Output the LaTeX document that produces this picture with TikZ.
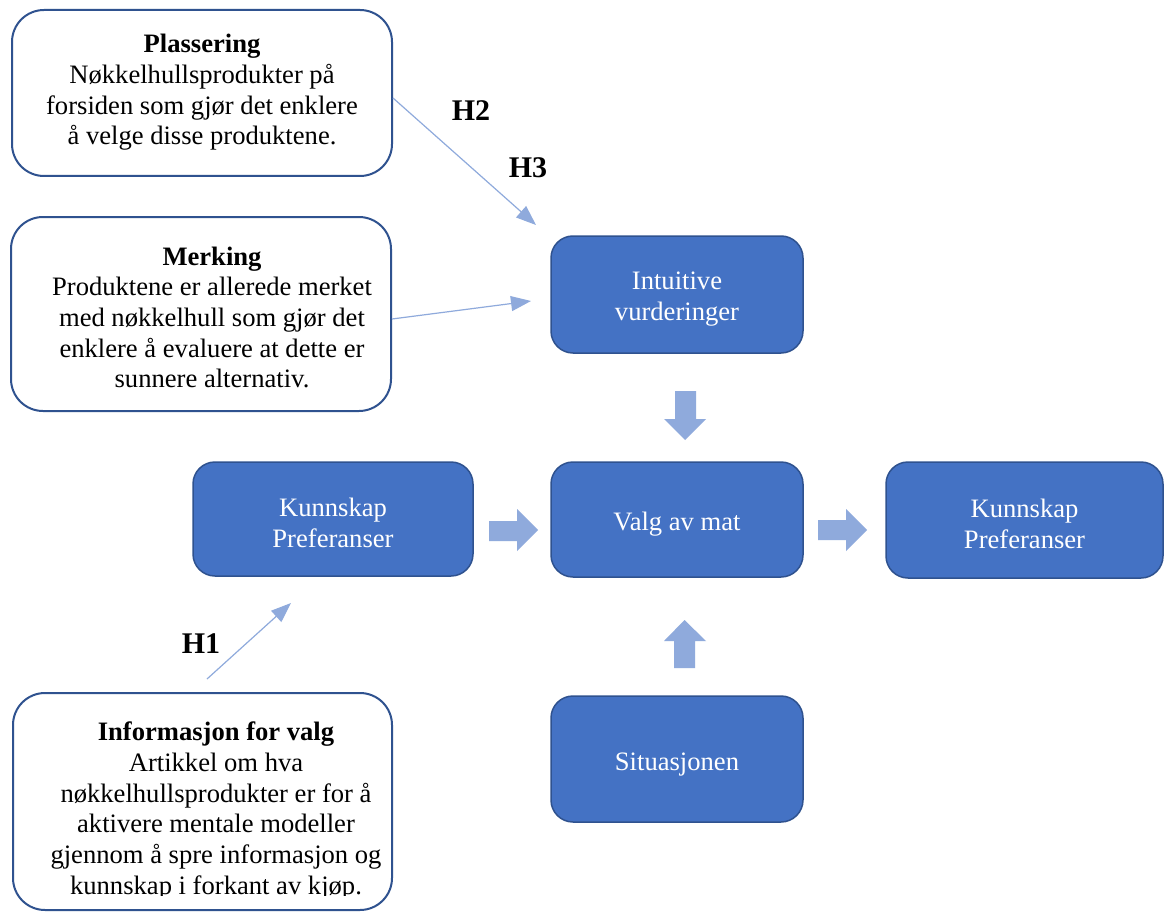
\documentclass[tikz,border=0pt]{standalone}
\usepackage{fontspec}
\setmainfont{Liberation Serif}
\usetikzlibrary{arrows.meta,calc}
\definecolor{boxblue}{HTML}{4472C4}
\definecolor{edgeblue}{HTML}{2F528F}
\definecolor{lightblue}{HTML}{8FAADC}
\begin{document}
\begin{tikzpicture}[x=1pt,y=-1pt,
  whitebox/.style={draw=edgeblue, line width=2pt, fill=white, rounded corners=32pt, inner sep=0pt},
  bluebox/.style={draw=edgeblue, line width=1.5pt, fill=boxblue, rounded corners=22pt, inner sep=0pt},
  bluetext/.style={text=white, align=center, inner sep=0pt, font=\fontsize{26.6}{30.7}\selectfont},
  bodytext/.style={align=center, font=\fontsize{26.6}{30.7}\selectfont, inner sep=0pt},
  hlabel/.style={font=\fontsize{30}{34}\selectfont\bfseries, inner sep=0pt},
  thinarrow/.style={draw=lightblue, line width=1.2pt, -{Triangle[length=20pt,width=15pt]}},
  blockarrow/.style={fill=lightblue}]
\clip (0,0) rectangle (1164,912);
\fill[white] (0,0) rectangle (1164,912);

% white boxes
\node[whitebox, minimum width=380pt, minimum height=166pt] (P) at (202,93) {};
\node[whitebox, minimum width=380pt, minimum height=194pt] (M) at (201,314) {};
\node[whitebox, minimum width=379pt, minimum height=217pt] (I) at (202.5,801.5) {};

\node[bodytext] (Ptext) at (202,92.5) {\textbf{Plassering}\\Nøkkelhullsprodukter på\\forsiden som gjør det enklere\\å velge disse produktene.};
\node[bodytext] (Mtext) at (212,317.5) {\textbf{Merking}\\Produktene er allerede merket\\med nøkkelhull som gjør det\\enklere å evaluere at dette er\\sunnere alternativ.};
\begin{scope}
\clip (0,680) rectangle (1164,895);
\node[bodytext] (Itext) at (216,811) {\textbf{Informasjon for valg}\\Artikkel om hva\\nøkkelhullsprodukter er for å\\aktivere mentale modeller\\gjennom å spre informasjon og\\kunnskap i forkant av kjøp.};
\end{scope}

% blue boxes
\node[bluebox, minimum width=252pt, minimum height=117pt] (IV) at (677,294.5) {};
\node[bluebox, minimum width=280pt, minimum height=114pt] (KL) at (333,519) {};
\node[bluebox, minimum width=252pt, minimum height=115pt] (V) at (677,519.5) {};
\node[bluebox, minimum width=277pt, minimum height=116pt] (KR) at (1024.5,520) {};
\node[bluebox, minimum width=252pt, minimum height=126pt] (S) at (677,759) {};
\node[bluetext] (IVt) at ($(IV.center)+(0,4.5)$) {Intuitive\\vurderinger};
\node[bluetext] (KLt) at ($(KL.center)+(0,4)$) {Kunnskap\\Preferanser};
\node[bluetext] (Vt) at ($(V.center)+(0,5)$) {Valg av mat};
\node[bluetext] (KRt) at ($(KR.center)+(0,4)$) {Kunnskap\\Preferanser};
\node[bluetext] (St) at ($(S.center)+(0,6)$) {Situasjonen};

% block arrows
\fill[blockarrow] (675,391) -- (696,391) -- (696,419) -- (706,419) -- (685,440) -- (664,419) -- (675,419) -- cycle;
\fill[blockarrow] (489,521) -- (517,521) -- (517,509) -- (538,530) -- (517,551) -- (517,541) -- (489,541) -- cycle;
\fill[blockarrow] (818,520) -- (846,520) -- (846,509) -- (867,530) -- (846,551) -- (846,540) -- (818,540) -- cycle;
\fill[blockarrow] (674,668) -- (674,641) -- (664,641) -- (684.5,620) -- (706,641) -- (695,641) -- (695,668) -- cycle;

% thin arrows
\coordinate (a1s) at ($(P.east)+(0,5)$);
\coordinate (a1e) at (536,225);
\coordinate (a2s) at ($(M.east)+(0,5)$);
\coordinate (a2e) at (531,301);
\coordinate (a3s) at (207,679);
\coordinate (a3e) at (291,603);
\draw[thinarrow] (a1s) -- (a1e);
\draw[thinarrow] (a2s) -- (a2e);
\draw[thinarrow] (a3s) -- (a3e);

% labels
\node[hlabel] (H2) at (471,111) {H2};
\node[hlabel] (H3) at (528,168) {H3};
\node[hlabel] (H1) at (201,644) {H1};
\end{tikzpicture}
\end{document}
